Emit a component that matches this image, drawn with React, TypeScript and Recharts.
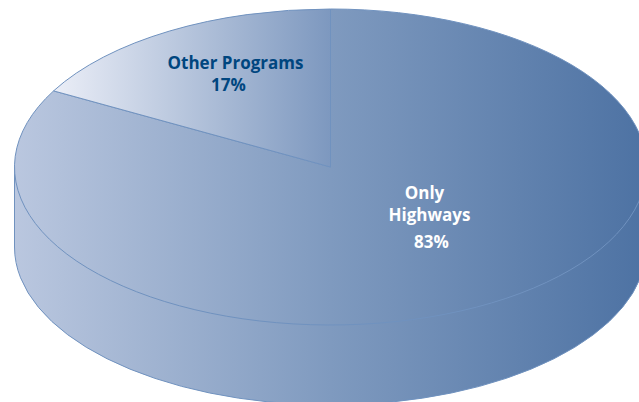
import { Pie, PieChart } from "recharts";

const sliceNames = ["Only Highways", "Other Programs"];
const sliceValues = [83, 17];
const rimValues = [100];
const sliceLabels = [["Only", "Highways", "83%"], ["Other Programs", "17%"]];

const sliceData = sliceNames.map((name, i) => ({ name, value: sliceValues[i] }));
const rimData = rimValues.map((value) => ({ name: "rim", value }));

const CX = 330.5;
const CY = 167;
const RADIUS = 316;
const SQUASH = 0.5;
const DEPTH = 80;
const EDGE = "#7092bf";

const RAD = Math.PI / 180;

// recharts only draws round sectors, so flatten them into an ellipse here
function EllipseSector(props: any) {
  const { cx, cy, outerRadius: r, startAngle, endAngle, index } = props;
  const ry = r * SQUASH;
  const x1 = cx + r * Math.cos(startAngle * RAD);
  const y1 = cy - ry * Math.sin(startAngle * RAD);
  const x2 = cx + r * Math.cos(endAngle * RAD);
  const y2 = cy - ry * Math.sin(endAngle * RAD);
  const large = Math.abs(startAngle - endAngle) > 180 ? 1 : 0;
  const d = `M${cx},${cy} L${x1},${y1} A${r},${ry} 0 ${large} 1 ${x2},${y2} Z`;
  return <path d={d} fill={index === 0 ? "url(#mainFill)" : "url(#otherFill)"} stroke={EDGE} strokeWidth={1} />;
}

function RimShape(props: any) {
  const { cx, cy, outerRadius: r } = props;
  const ry = r * SQUASH;
  const d = `M${cx - r},${cy} L${cx - r},${cy + DEPTH} A${r},${ry} 0 0 0 ${cx + r},${cy + DEPTH} L${cx + r},${cy} Z`;
  return <path d={d} fill="url(#mainFill)" stroke={EDGE} strokeWidth={1} />;
}

function SliceLabel(props: any) {
  const { index, cx, cy } = props;
  const lines = sliceLabels[index];
  const offsets = index === 0 ? [32, 54, 81] : [-98, -76];
  const xs = index === 0 ? [94, 99, 101] : [-95, -102];
  return (
    <text
      fontFamily="Open Sans"
      fontWeight={700}
      fontSize={17}
      fill={index === 0 ? "#ffffff" : "#00467f"}
      textAnchor="middle"
    >
      {lines.map((t, i) => (
        <tspan key={t} x={cx + xs[i]} y={cy + offsets[i]}>{t}</tspan>
      ))}
    </text>
  );
}

export default function App() {
  return (
    <div style={{ position: "absolute", left: 0, top: 0, width: 639, height: 402, background: "#fff" }}>
      <PieChart width={639} height={402} margin={{ top: 0, right: 0, bottom: 0, left: 0 }}>
        <defs>
          <linearGradient id="mainFill" x1="0" y1="0" x2="1" y2="0">
            <stop offset="0%" stopColor="#bac7df" />
            <stop offset="50%" stopColor="#7f9abf" />
            <stop offset="100%" stopColor="#4d72a3" />
          </linearGradient>
          <linearGradient id="otherFill" x1="0" y1="0" x2="1" y2="0">
            <stop offset="0%" stopColor="#ebeef7" />
            <stop offset="100%" stopColor="#7d98bf" />
          </linearGradient>
        </defs>
        <Pie
          data={rimData}
          dataKey="value"
          cx={CX}
          cy={CY}
          outerRadius={RADIUS}
          startAngle={90}
          endAngle={-270}
          shape={RimShape}
          isAnimationActive={false}
        />
        <Pie
          data={sliceData}
          dataKey="value"
          nameKey="name"
          cx={CX}
          cy={CY}
          outerRadius={RADIUS}
          startAngle={90}
          endAngle={-270}
          paddingAngle={0}
          shape={EllipseSector}
          label={SliceLabel}
          labelLine={false}
          isAnimationActive={false}
        />
      </PieChart>
    </div>
  );
}
